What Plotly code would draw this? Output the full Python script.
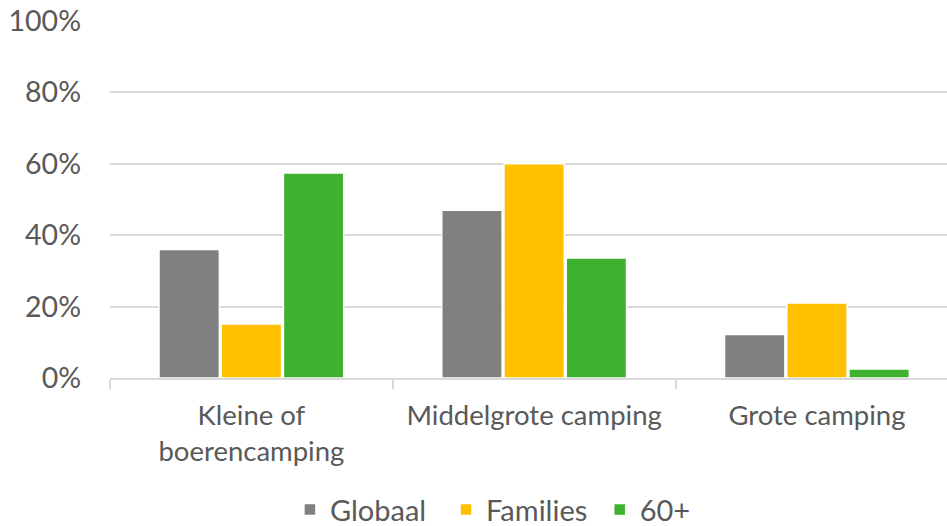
import plotly.graph_objects as go

categories = ["Kleine of<br>boerencamping", "Middelgrote camping", "Grote camping"]
series_names = ["Globaal\u00a0\u00a0", "Families\u00a0", "60+"]
globaal = [0.36, 0.47, 0.122]
families = [0.151, 0.60, 0.21]
plus60 = [0.574, 0.336, 0.025]
colors = ["#808080", "#FFC000", "#3EB22F"]
y_ticks = [0, 0.2, 0.4, 0.6, 0.8, 1.0]

font_family = "Lato, Carlito, Calibri, sans-serif"
text_color = "#595959"

fig = go.Figure()
for name, vals, col in zip(series_names, [globaal, families, plus60], colors):
    fig.add_trace(go.Bar(
        x=categories, y=vals, name=name,
        marker=dict(color=col, line=dict(color="white", width=1.5)),
    ))

fig.update_layout(
    width=947, height=526,
    margin=dict(l=110, r=0, t=21, b=148),
    paper_bgcolor="white", plot_bgcolor="white",
    barmode="group", bargap=0.34, bargroupgap=0.03,
    font=dict(family=font_family, color=text_color, size=28),
    showlegend=True,
    legend=dict(orientation="h", xref="container", yref="container",
                x=0.5205, xanchor="center", y=0.031, yanchor="middle",
                font=dict(size=29, color=text_color), itemwidth=30, traceorder="normal"),
)
fig.update_xaxes(
    range=[-0.5, 2.46], automargin=False,
    showline=True, linecolor="#D9D9D9", linewidth=1.5,
    ticks="outside", tickson="boundaries", ticklen=9, tickcolor="#D9D9D9", tickwidth=1.5,
    tickfont=dict(size=27.5, color=text_color), ticklabelstandoff=12,
    showgrid=False,
)
fig.update_yaxes(
    range=[0, 1.0], tickvals=y_ticks, tickformat=".0%", automargin=False,
    showgrid=True, gridcolor="#D9D9D9", gridwidth=1.5,
    zeroline=False, showline=False,
    tickfont=dict(size=28.5, color=text_color), ticklabelstandoff=28,
)
post = """
var s=document.createElement('style');
s.textContent='html,body{margin:0;padding:0;overflow:hidden;}';
document.head.appendChild(s);
"""
fig.write_html("out.html", config={"displayModeBar": False}, post_script=post)
